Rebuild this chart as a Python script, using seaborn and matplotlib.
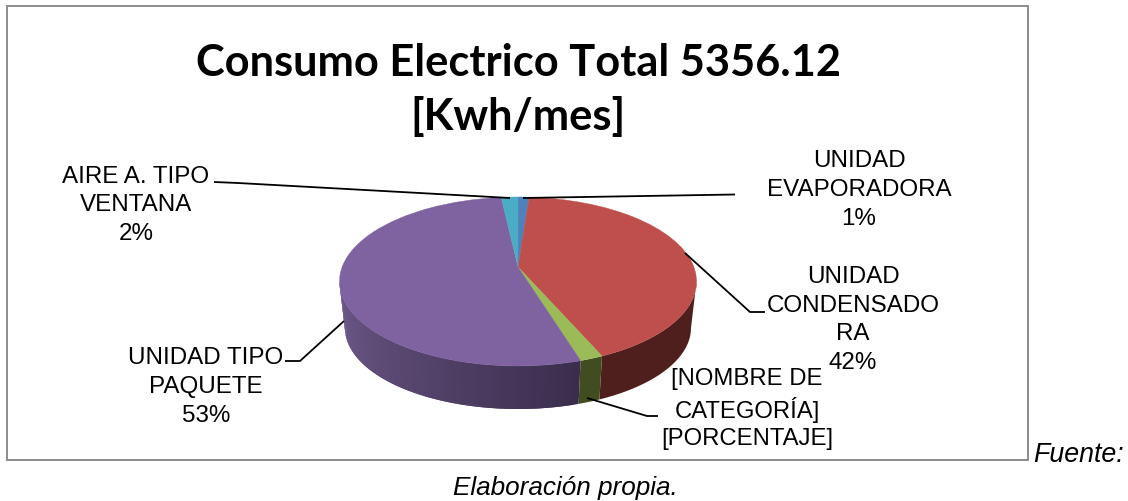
import numpy as np
import matplotlib
matplotlib.use("Agg")
import matplotlib.pyplot as plt
from matplotlib.path import Path
from matplotlib.patches import PathPatch, Rectangle
import matplotlib.colors as mc
import seaborn as sns

# ---- data -------------------------------------------------------------
categories = ["UNIDAD\nEVAPORADORA", "UNIDAD\nCONDENSADO\nRA", "[NOMBRE DE\nCATEGORÍA]",
              "UNIDAD TIPO\nPAQUETE", "AIRE A. TIPO\nVENTANA"]
shares = [1.0, 41.2, 2.1, 54.2, 1.5]          # as drawn in the picture
pct_labels = ["1%", "42%", "[PORCENTAJE]", "53%", "2%"]
colors = ["#4F81BD", "#BE4F4C", "#9BBB59", "#7F62A0", "#4BACC6"]
title_text = "Consumo Electrico Total 5356.12\n[Kwh/mes]"

W, H = 1128, 502
sns.set_theme(style="white")
plt.rcParams["font.family"] = ["Liberation Sans", "DejaVu Sans"]
fig = plt.figure(figsize=(W / 100, H / 100), dpi=100, facecolor="white")

# ---- geometry in pixels ------------------------------------------------
cx, cy, rx, ry = 518.0, 282.5, 178.5, 84.5
low_cy, low_rx, low_ry = 329.0, 173.0, 81.0
apex_y = 268.0

ax = fig.add_axes([(cx - rx) / W, 1 - (cy + ry) / H, 2 * rx / W, 2 * ry / H], zorder=2)
wedges, _ = ax.pie(shares, colors=colors, startangle=90, counterclock=False, radius=1.0)
ax.set_aspect("auto")
ax.set_xlim(-1, 1)
ax.set_ylim(-1, 1)
ax.patch.set_alpha(0)
ax.axis("off")

ly0 = -(low_cy - cy) / ry
lsx, lsy = low_rx / rx, low_ry / ry
apex = np.array([0.0, (cy - apex_y) / ry])

# shift the apex of each wedge as the perspective view does
for w, col in zip(wedges, colors):
    p = w.get_patch_transform().transform_path(w.get_path())
    v = p.vertices.copy()
    v[np.hypot(v[:, 0], v[:, 1]) < 1e-6] = apex
    w.set_visible(False)
    ax.add_patch(PathPatch(Path(v, p.codes), facecolor=col, edgecolor=col, lw=0.3,
                           clip_on=False, zorder=5))

# side wall, shaded from the same slice angles
edges = np.concatenate([[0], np.cumsum(shares)]) / np.sum(shares) * 360.0
wall = {1: ("#4F1F1D", "#4F1F1D"), 2: ("#414C20", "#414C20"), 3: ("#3A2D4C", "#705B8C")}
for i, (a, b) in enumerate(zip(edges[:-1], edges[1:])):
    lo, hi = max(a, 90.0), min(b, 270.0)
    if hi <= lo or i not in wall:
        continue
    c0, c1 = [np.array(mc.to_rgb(c)) for c in wall[i]]
    n = 70 if wall[i][0] != wall[i][1] else 1
    steps = np.linspace(lo, hi, n + 1)
    for t0, t1 in zip(steps[:-1], steps[1:]):
        # each strip runs on under the next one, so no seams show
        ts = np.radians(np.linspace(t0, min(hi, t1 + (steps[1] - steps[0])) if n > 1 else t1, 24))
        xu, yu = np.sin(ts), np.cos(ts)
        xl, yl = lsx * np.sin(ts), ly0 + lsy * np.cos(ts)
        f = ((t0 + t1) / 2 - lo) / (hi - lo)
        col = c0 + (c1 - c0) * f
        ax.fill(np.r_[xu, xl[::-1]], np.r_[yu, yl[::-1]], color=col, lw=0,
                clip_on=False, zorder=3 + i * 0.01)

# ---- overlay in pixel space: frame, texts, leader lines ---------------
ov = fig.add_axes([0, 0, 1, 1], zorder=3)
ov.set_xlim(0, W)
ov.set_ylim(H, 0)
ov.axis("off")
ov.patch.set_alpha(0)
ov.add_patch(Rectangle((7, 6.5), 1021, 454, fill=False, edgecolor="#8C8C8C", lw=1.4))

ov.text(518, 90, title_text, ha="center", va="center", fontsize=31.2, fontweight="bold",
        family=["Lato", "DejaVu Sans"], color="black", linespacing=1.38)

leaders = [
    ([523, 735], [199, 195.5]),
    ([685, 750, 765], [254, 313, 313]),
    ([587, 647, 658], [399, 417, 417]),
    ([344, 300, 285], [322, 362, 362]),
    ([510, 238, 214], [199, 184, 183]),
]
spots = [(859, 190), (853, 320), (747, 409), (206, 387), (136, 205.5)]
spacing = [1.42, 1.4, 1.33, 1.4, 1.4]
sizes = [17.4, 17.4, 17.2, 17.4, 17.4]
for (lx, ly), cat, pct, (tx, ty), ls, fs in zip(leaders, categories, pct_labels, spots, spacing, sizes):
    ov.plot(lx, ly, color="black", lw=1.3, solid_capstyle="butt")
    ov.text(tx, ty, f"{cat}\n{pct}", ha="center", va="center", fontsize=fs,
            color="black", linespacing=ls)

ov.text(1033, 455, "Fuente:", ha="left", va="center", fontsize=19.3, style="italic", color="black")
ov.text(565, 488, "Elaboración propia.", ha="center", va="center", fontsize=18.8,
        style="italic", color="black")

fig.savefig("out.png", dpi=100, facecolor="white")
